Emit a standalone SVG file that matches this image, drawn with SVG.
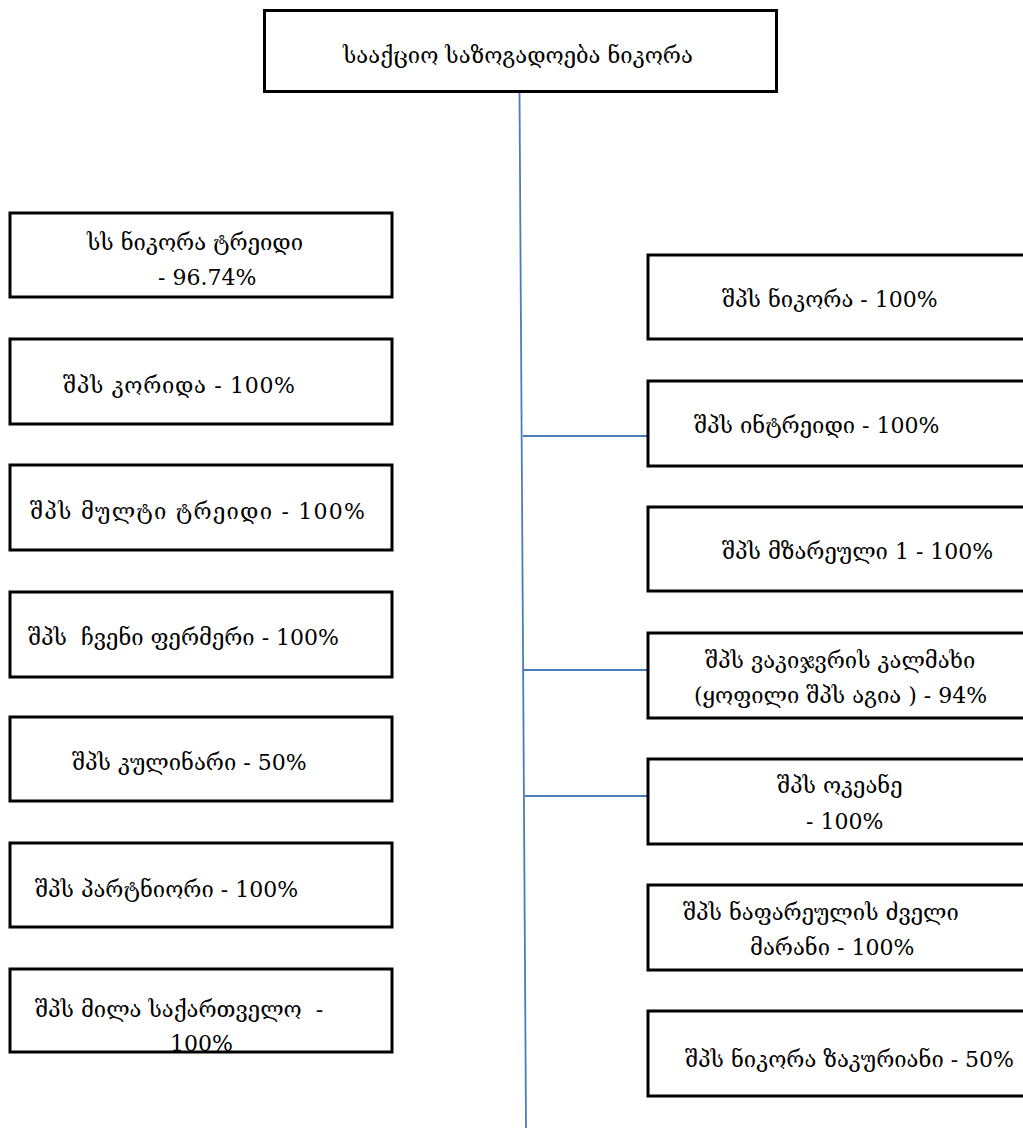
<svg xmlns="http://www.w3.org/2000/svg" width="1023" height="1130" viewBox="0 0 1023 1130">
<style>
.box{fill:#fff;stroke:#000;stroke-width:3}
.t{font-family:"DejaVu Serif","DejaVu Sans",serif;font-size:22px;fill:#000}
.c{stroke:#4a7ebb;stroke-width:1.8;fill:none}
</style>
<rect width="1023" height="1130" fill="#fff"/>
<g id="connectors">
<line class="c" x1="519.5" y1="93" x2="526" y2="1128"/>
<line class="c" x1="523" y1="436" x2="647" y2="436"/>
<line class="c" x1="524" y1="670" x2="647" y2="670"/>
<line class="c" x1="525" y1="796" x2="647" y2="796"/>
</g>
<g id="root"><rect class="box" x="264.5" y="10.5" width="512" height="81"/><text class="t" x="343" y="63">სააქციო საზოგადოება ნიკორა</text></g>
<g id="l1"><rect class="box" x="10" y="213" width="382" height="84"/><text class="t" x="87" y="250">სს ნიკორა ტრეიდი</text><text class="t" x="158" y="285">- 96.74%</text></g>
<g id="l2"><rect class="box" x="10" y="339" width="382" height="85"/><text class="t" x="63" y="393" textLength="232" lengthAdjust="spacing">შპს კორიდა - 100%</text></g>
<g id="l3"><rect class="box" x="10" y="465" width="382" height="85"/><text class="t" x="30" y="519" textLength="335" lengthAdjust="spacing">შპს მულტი ტრეიდი - 100%</text></g>
<g id="l4"><rect class="box" x="10" y="592" width="382" height="85"/><text class="t" x="28" y="645" xml:space="preserve">შპს  ჩვენი ფერმერი - 100%</text></g>
<g id="l5"><rect class="box" x="10" y="717" width="382" height="84"/><text class="t" x="72" y="770">შპს კულინარი - 50%</text></g>
<g id="l6"><rect class="box" x="10" y="843" width="382" height="84"/><text class="t" x="35" y="897">შპს პარტნიორი - 100%</text></g>
<g id="l7"><rect class="box" x="10" y="969" width="382" height="83"/><text class="t" x="35" y="1017" xml:space="preserve">შპს მილა საქართველო  -</text><text class="t" x="170" y="1051">100%</text></g>
<g id="r1"><rect class="box" x="648" y="255" width="380" height="84"/><text class="t" x="722" y="307">შპს ნიკორა - 100%</text></g>
<g id="r2"><rect class="box" x="648" y="381" width="380" height="85"/><text class="t" x="694" y="433">შპს ინტრეიდი - 100%</text></g>
<g id="r3"><rect class="box" x="648" y="507" width="380" height="84"/><text class="t" x="722" y="559">შპს მზარეული 1 - 100%</text></g>
<g id="r4"><rect class="box" x="648" y="633" width="380" height="85"/><text class="t" x="705" y="668">შპს ვაკიჯვრის კალმახი</text><text class="t" x="694" y="703">(ყოფილი შპს აგია ) - 94%</text></g>
<g id="r5"><rect class="box" x="648" y="759" width="380" height="85"/><text class="t" x="777" y="793">შპს ოკეანე</text><text class="t" x="806" y="829">- 100%</text></g>
<g id="r6"><rect class="box" x="648" y="885" width="380" height="85"/><text class="t" x="683" y="920">შპს ნაფარეულის ძველი</text><text class="t" x="750" y="955">მარანი - 100%</text></g>
<g id="r7"><rect class="box" x="648" y="1011" width="380" height="85"/><text class="t" x="685" y="1067">შპს ნიკორა ზაკურიანი - 50%</text></g>
</svg>
